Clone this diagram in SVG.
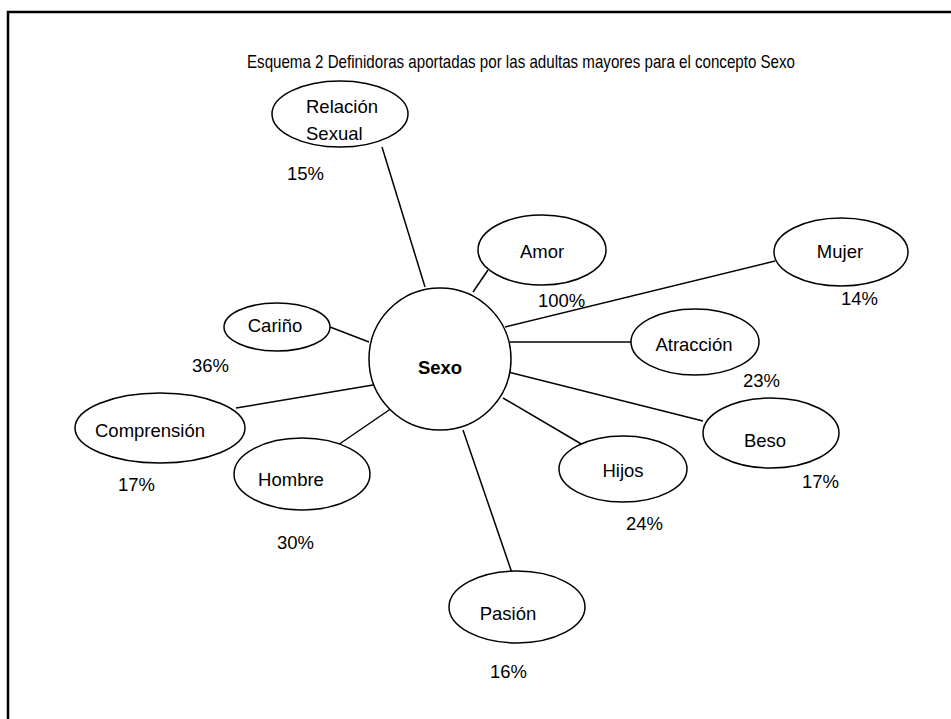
<svg xmlns="http://www.w3.org/2000/svg" width="951" height="719" viewBox="0 0 951 719">
<style>
.n{fill:#fff;stroke:#000;stroke-width:1.5}
.t{font-family:"Liberation Sans",Arial,sans-serif;font-size:18.5px;fill:#000}
.m{text-anchor:middle}
.c line{stroke:#000;stroke-width:1.5}
</style>
<rect width="951" height="719" fill="#fff"/>
<path d="M8 719 V12 H951" fill="none" stroke="#000" stroke-width="2.5"/>
<text class="t" x="521" y="68" text-anchor="middle" font-size="14" textLength="548" lengthAdjust="spacingAndGlyphs">Esquema 2  Definidoras aportadas por las adultas mayores para el concepto Sexo</text>
<g id="connectors" class="c">
<line x1="382" y1="147" x2="425" y2="287"/>
<line x1="488" y1="270" x2="473" y2="292"/>
<line x1="505" y1="327" x2="775" y2="261"/>
<line x1="510" y1="342" x2="631" y2="342"/>
<line x1="508" y1="372" x2="703" y2="421"/>
<line x1="503" y1="398" x2="583" y2="445"/>
<line x1="463" y1="430" x2="512" y2="573"/>
<line x1="392" y1="408" x2="338" y2="445"/>
<line x1="373" y1="385" x2="236" y2="408"/>
<line x1="330" y1="327" x2="369" y2="342"/>
</g>
<g id="sexo"><circle class="n" cx="440" cy="359" r="71"/><text class="t m" x="440" y="374" font-weight="bold">Sexo</text></g>
<g id="relacion"><ellipse class="n" cx="340" cy="114" rx="68" ry="33"/><text class="t" x="306" y="113">Relación</text><text class="t" x="306" y="140">Sexual</text><text class="t" x="287" y="180">15%</text></g>
<g id="amor"><ellipse class="n" cx="542" cy="250" rx="64" ry="35"/><text class="t m" x="542" y="258">Amor</text><text class="t" x="538" y="307">100%</text></g>
<g id="mujer"><ellipse class="n" cx="841" cy="252" rx="67" ry="34"/><text class="t m" x="840" y="258">Mujer</text><text class="t" x="841" y="305">14%</text></g>
<g id="atraccion"><ellipse class="n" cx="695" cy="342" rx="64" ry="33"/><text class="t m" x="694" y="351">Atracción</text><text class="t" x="743" y="387">23%</text></g>
<g id="beso"><ellipse class="n" cx="771" cy="433" rx="68" ry="35"/><text class="t m" x="765" y="447">Beso</text><text class="t" x="802" y="488">17%</text></g>
<g id="hijos"><ellipse class="n" cx="623" cy="469" rx="64" ry="33"/><text class="t m" x="623" y="477">Hijos</text><text class="t" x="626" y="530">24%</text></g>
<g id="pasion"><ellipse class="n" cx="517" cy="607" rx="68" ry="36"/><text class="t m" x="508" y="620">Pasión</text><text class="t" x="490" y="678">16%</text></g>
<g id="hombre"><ellipse class="n" cx="302" cy="474" rx="68" ry="36"/><text class="t m" x="291" y="486">Hombre</text><text class="t" x="277" y="549">30%</text></g>
<g id="comprension"><ellipse class="n" cx="160" cy="428" rx="85" ry="35"/><text class="t m" x="150" y="437">Comprensión</text><text class="t" x="118" y="491">17%</text></g>
<g id="carino"><ellipse class="n" cx="277" cy="327" rx="53" ry="24"/><text class="t m" x="275" y="332">Cariño</text><text class="t" x="192" y="372">36%</text></g>
</svg>
